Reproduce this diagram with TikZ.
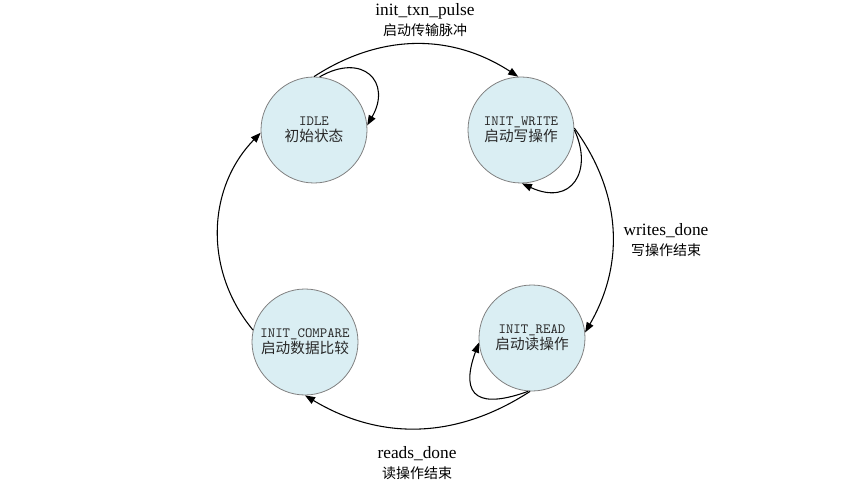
\documentclass[tikz,border=0pt]{standalone}
\usepackage{fontspec}
\setmainfont{Liberation Serif}
\newfontfamily\cjk{Noto Sans CJK SC}
\usetikzlibrary{arrows.meta}
\definecolor{statefill}{RGB}{218,238,243}
\definecolor{stateline}{RGB}{128,128,128}
\definecolor{txtgray}{RGB}{40,40,40}
\begin{document}
\begin{tikzpicture}[x=0.75pt,y=0.75pt,
  state/.style={circle, draw=stateline, line width=0.6pt, fill=statefill,
    minimum size=79.5pt, inner sep=0pt, align=center, text=txtgray,
    font=\fontsize{10.6}{12}\selectfont},
  tr/.style={-{Triangle[length=7.5pt,width=5.6pt]}, line width=0.8pt},
  lbl/.style={align=center, font=\fontsize{13}{15.5}\selectfont, inner sep=0pt}]
\useasboundingbox (0,0) rectangle (860,486);
\node[state] (idle)    at (314,356) {\ttfamily IDLE\\[0.3pt]{\cjk\fontsize{11}{12}\selectfont 初始状态}};
\node[state] (write)   at (521,356) {\ttfamily INIT\_WRITE\\[0.3pt]{\cjk\fontsize{11}{12}\selectfont 启动写操作}};
\node[state] (read)    at (532,148) {\ttfamily INIT\_READ\\[0.3pt]{\cjk\fontsize{11}{12}\selectfont 启动读操作}};
\node[state] (compare) at (305,144) {\ttfamily INIT\_COMPARE\\[0.3pt]{\cjk\fontsize{11}{12}\selectfont 启动数据比较}};

\draw[tr] (idle.90) to[bend left=33] (write.93);
\draw[tr] (idle.84) .. controls +(30:50) and +(60:50) .. (idle.5);
\draw[tr] (write.2) to[bend left=33] (read.6);
\draw[tr] (write.0) .. controls +(-65:45) and +(-25:55) .. (write.271);
\draw[tr] (read.268) to[bend left=32] (compare.270);
\draw[tr] (read.266) .. controls +(200:50) and +(-110:60) .. (read.185);
\draw[tr] (compare.167) to[bend left=42] (idle.183);

\node[lbl] (l1) at (425,466) {init\_txn\_pulse\\{\cjk\fontsize{10.5}{12}\selectfont 启动传输脉冲}};
\node[lbl] (l2) at (666,246) {writes\_done\\{\cjk\fontsize{10.5}{12}\selectfont 写操作结束}};
\node[lbl] (l3) at (417,23) {reads\_done\\{\cjk\fontsize{10.5}{12}\selectfont 读操作结束}};
\end{tikzpicture}
\end{document}
